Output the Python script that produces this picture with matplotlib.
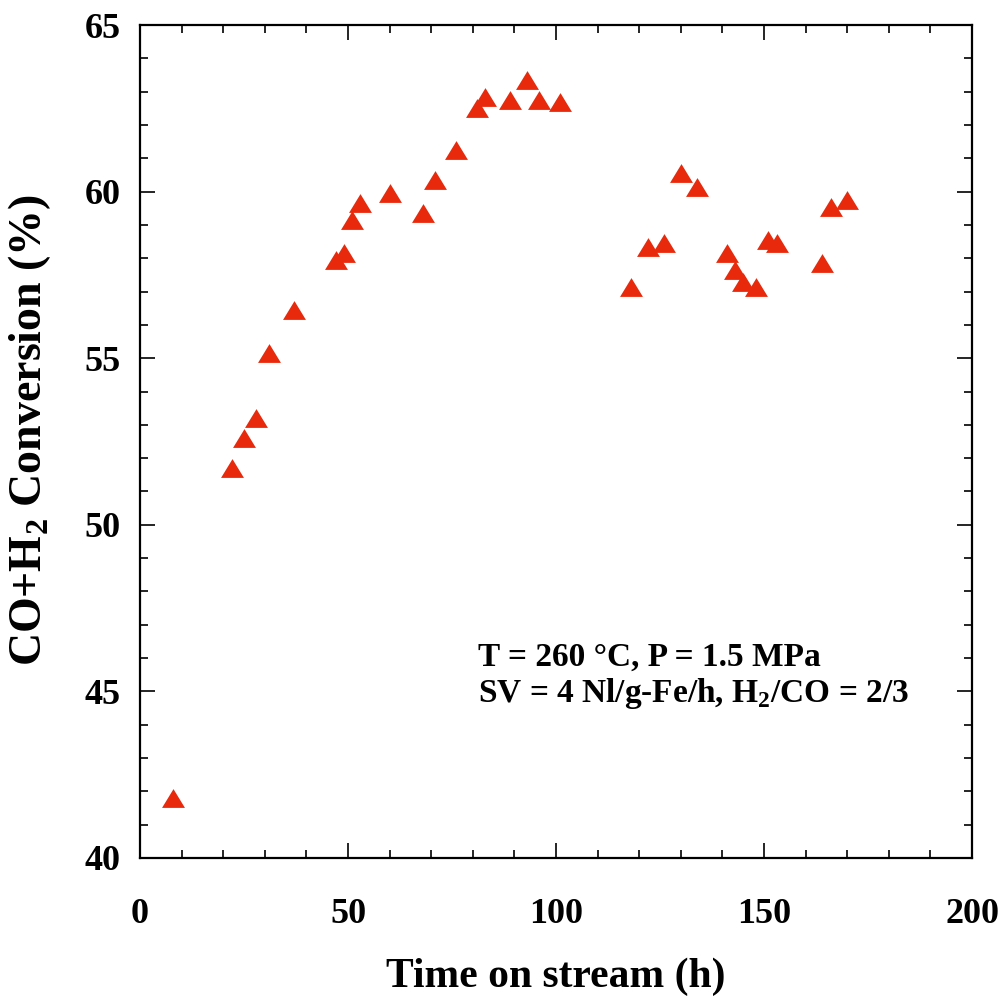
import matplotlib
matplotlib.use('Agg')
import matplotlib.pyplot as plt
from matplotlib.ticker import MultipleLocator

# Time on stream (h) and CO+H2 conversion (%)
time_h = [8, 22, 25, 28, 31, 37, 47, 49, 51, 53, 60, 68, 71, 76, 81, 83, 89, 93, 96, 101,
          118, 122, 126, 130, 134, 141, 143, 145, 148, 151, 153, 164, 166, 170]
conversion = [41.8, 51.7, 52.6, 53.2, 55.15, 56.45, 57.95, 58.15, 59.15, 59.65, 59.95,
              59.35, 60.35, 61.25, 62.5, 62.85, 62.75, 63.35, 62.75, 62.7,
              57.15, 58.35, 58.45, 60.55, 60.15, 58.15, 57.65, 57.3, 57.15, 58.55,
              58.45, 57.85, 59.55, 59.75]

plt.rcParams['font.family'] = 'Liberation Serif'
plt.rcParams['font.weight'] = 'bold'
plt.rcParams['mathtext.fontset'] = 'custom'
plt.rcParams['mathtext.rm'] = 'Liberation Serif:bold'
plt.rcParams['mathtext.bf'] = 'Liberation Serif:bold'

fig = plt.figure(figsize=(10.05, 10.05), dpi=100)
ax = fig.add_axes([0.1393, 0.1463, 0.8279, 0.8288])

# wider-than-tall triangle like the original
tri = [(-1, -0.82), (1, -0.82), (0, 0.82), (-1, -0.82)]
ax.plot(time_h, conversion, linestyle='none', marker=tri, markersize=16.5,
        color='#E8290B', markeredgewidth=0)

ax.set_xlim(0, 200)
ax.set_ylim(40, 65)
ax.xaxis.set_major_locator(MultipleLocator(50))
ax.xaxis.set_minor_locator(MultipleLocator(10))
ax.yaxis.set_major_locator(MultipleLocator(5))
ax.yaxis.set_minor_locator(MultipleLocator(1))
ax.tick_params(which='both', direction='in', top=True, right=True, width=1.2)
ax.tick_params(which='major', length=11, labelsize=26)
ax.tick_params(axis='x', which='major', pad=29)
ax.tick_params(axis='y', which='major', pad=14)
ax.tick_params(which='minor', length=6)
for lbl in ax.get_xticklabels() + ax.get_yticklabels():
    lbl.set_fontweight('bold')
for sp in ax.spines.values():
    sp.set_linewidth(1.6)

ax.set_xlabel('Time on stream (h)', fontsize=30, fontweight='bold')
ax.set_ylabel(r'CO+H$_{\rm 2}$ Conversion (%)', fontsize=33, fontweight='bold')
ax.xaxis.set_label_coords(0.5, -0.12)
ax.yaxis.set_label_coords(-0.105, 0.514)

ax.text(0.406, 0.259, 'T = 260 \u00b0C, P = 1.5 MPa\n'
        r'SV = 4 Nl/g-Fe/h, H$_{\rm 2}$/CO = 2/3',
        transform=ax.transAxes, fontsize=24, fontweight='bold',
        va='top', ha='left', linespacing=1.1)

fig.savefig('out.png', dpi=100)
